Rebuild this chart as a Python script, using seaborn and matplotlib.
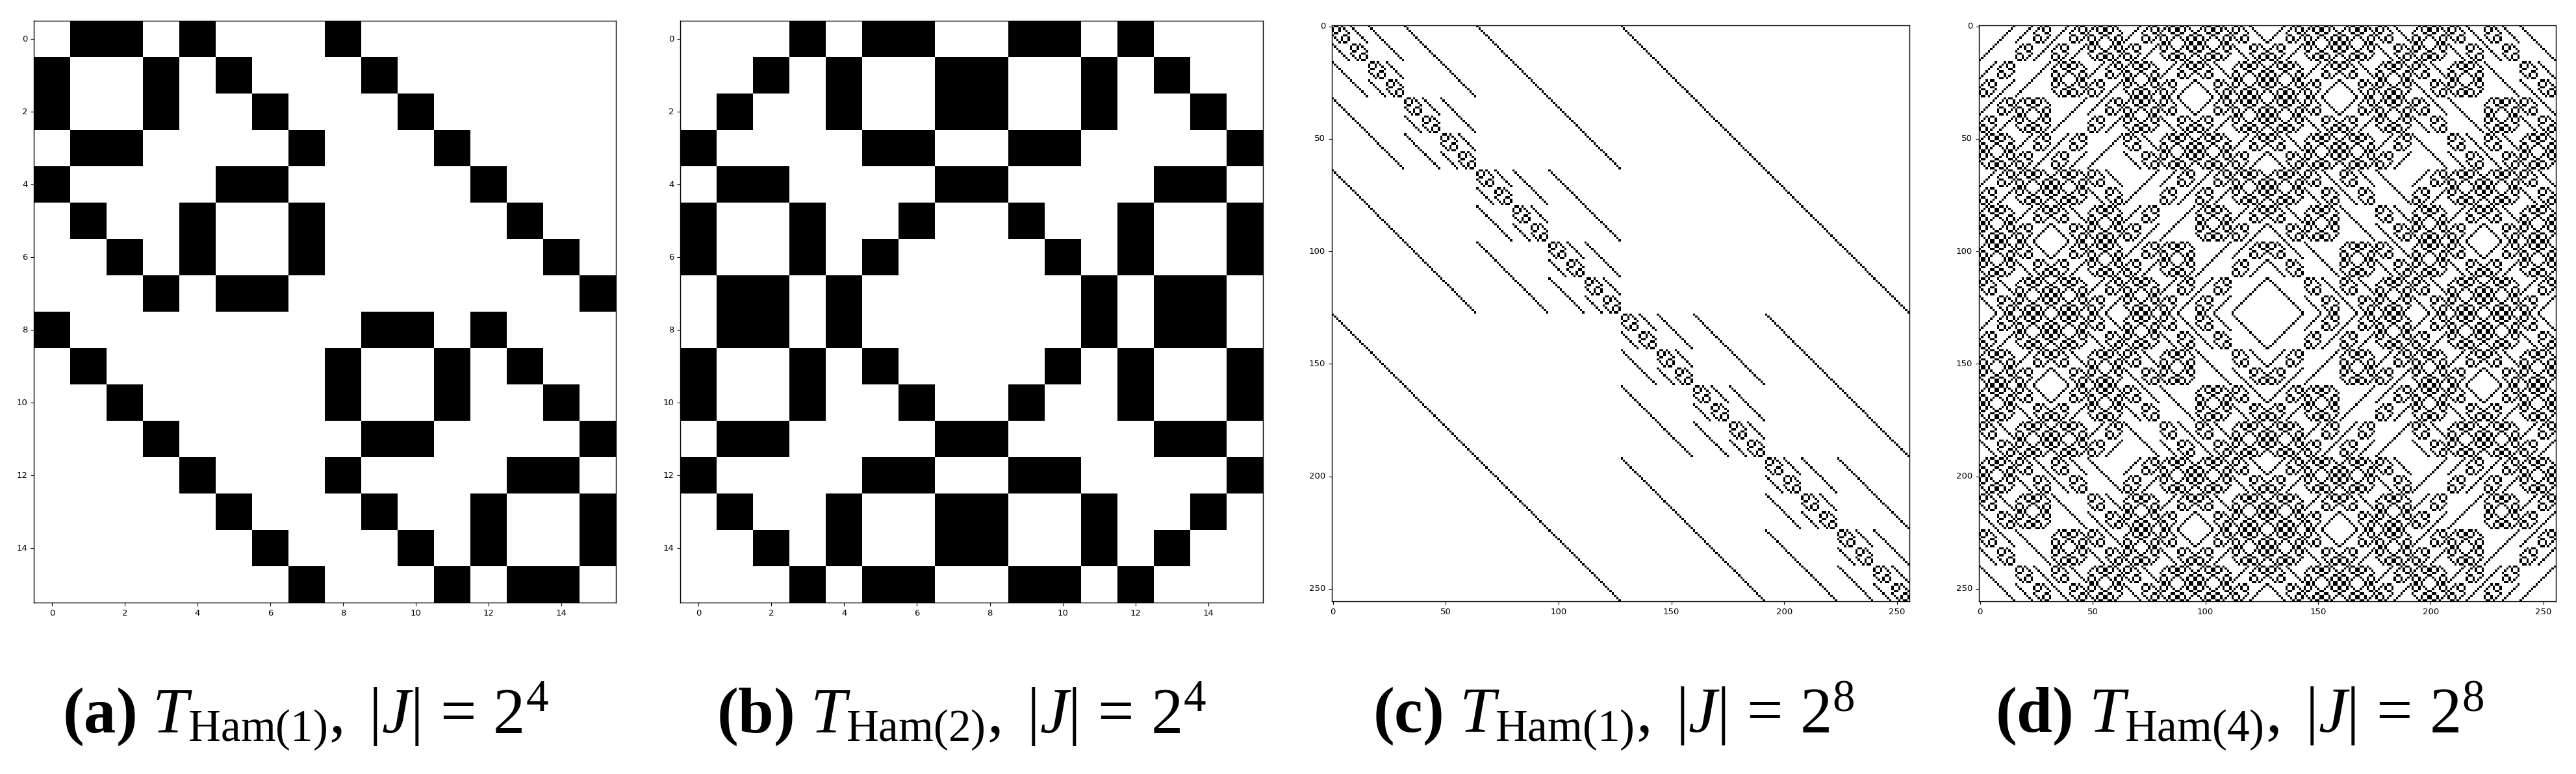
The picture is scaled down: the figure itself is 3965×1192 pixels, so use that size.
import matplotlib
matplotlib.use('Agg')
import matplotlib.pyplot as plt
import seaborn as sns
import numpy as np

# black cells of row 0 in each panel, the other rows are the same set xor row index
row0_a = [1, 2, 4, 8]
row0_b = [3, 5, 6, 9, 10, 12]
row0_c = [1, 2, 4, 8, 16, 32, 64, 128]
row0_d = [15, 23, 27, 29, 30, 39, 43, 45, 46, 51, 53, 54, 57, 58, 60,
          71, 75, 77, 78, 83, 85, 86, 89, 90, 92, 99, 101, 102, 105, 106, 108,
          113, 114, 116, 120, 135, 139, 141, 142, 147, 149, 150, 153, 154, 156,
          163, 165, 166, 169, 170, 172, 177, 178, 180, 184, 195, 197, 198,
          201, 202, 204, 209, 210, 212, 216, 225, 226, 228, 232, 240]

sizes = [16, 16, 256, 256]
tick_steps = [2, 2, 50, 50]
captions = [
    r'$\mathbf{(a)}\ T_{\mathrm{Ham}(1)}$, $\,|J|\,=\,2^{4}$',
    r'$\mathbf{(b)}\ T_{\mathrm{Ham}(2)}$, $\,|J|\,=\,2^{4}$',
    r'$\mathbf{(c)}\ T_{\mathrm{Ham}(1)}$, $\,|J|\,=\,2^{8}$',
    r'$\mathbf{(d)}\ T_{\mathrm{Ham}(4)}$, $\,|J|\,=\,2^{8}$',
]

W, H = 3965, 1192
# panel boxes in pixels: left, right, top, bottom
boxes = [(52, 948, 32, 928), (1047, 1944, 32, 928),
         (2050, 2939, 39, 926), (3046, 3934, 39, 926)]
caption_x = [96, 1103, 2113, 3071]
caption_y = 1128

plt.rcParams['mathtext.fontset'] = 'custom'
plt.rcParams['mathtext.rm'] = 'Liberation Serif'
plt.rcParams['mathtext.it'] = 'Liberation Serif:italic'
plt.rcParams['mathtext.bf'] = 'Liberation Serif:bold'


def build_matrix(row0, n):
    mat = np.zeros((n, n))
    for i in range(n):
        for j in row0:
            mat[i, i ^ j] = 1
    return mat


fig = plt.figure(figsize=(W / 100, H / 100), dpi=100)
for row0, n, step, box, text, tx in zip([row0_a, row0_b, row0_c, row0_d], sizes, tick_steps,
                                        boxes, captions, caption_x):
    l, r, t, b = box
    ax = fig.add_axes([l / W, 1 - b / H, (r - l) / W, (b - t) / H])
    sns.heatmap(build_matrix(row0, n), ax=ax, cmap='gray_r', vmin=0, vmax=1, cbar=False,
                xticklabels=step, yticklabels=step)
    ax.tick_params(axis='both', labelsize=9.5, length=3.5, width=0.8, pad=3.5)
    ax.tick_params(axis='x', labelrotation=0)
    ax.tick_params(axis='y', labelrotation=0)
    for s in ax.spines.values():
        s.set_visible(True)
        s.set_linewidth(1.0)
    fig.text(tx / W, 1 - caption_y / H, text, fontsize=71, family='Liberation Serif',
             ha='left', va='baseline')

fig.savefig('out.png', dpi=100, facecolor='white')
